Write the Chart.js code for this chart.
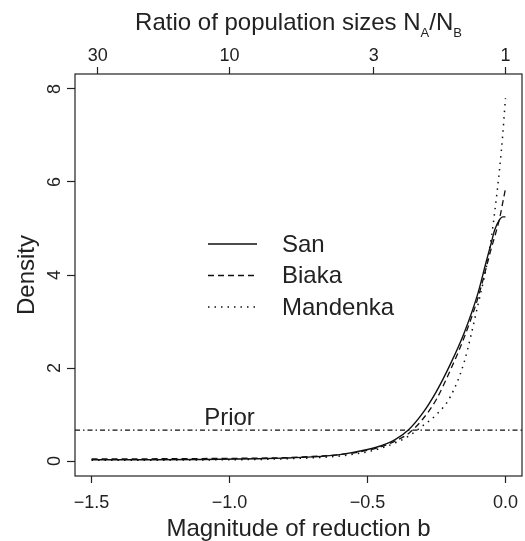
<!DOCTYPE html>
<html>
<head>
<meta charset="utf-8">
<script src="https://cdn.jsdelivr.net/npm/chart.js@4.4.0/dist/chart.umd.min.js"></script>
<style>
  body { margin: 0; background: #fff; }
  canvas { display: block; }
</style>
</head>
<body>
<canvas id="chart" width="525" height="541"></canvas>
<script>
// values
var bVals    = [-1.5, -1.3, -1.1, -0.9, -0.8, -0.7, -0.6, -0.5, -0.45, -0.4, -0.35, -0.3, -0.25, -0.2, -0.15, -0.1, -0.07, -0.05, -0.04, -0.02, -0.01, 0];
var san      = [0.03, 0.03, 0.035, 0.05, 0.065, 0.09, 0.14, 0.25, 0.33, 0.46, 0.68, 1.03, 1.5, 2.08, 2.75, 3.6, 4.28, 4.72, 4.95, 5.2, 5.25, 5.25];
var biaka    = [0.05, 0.05, 0.055, 0.065, 0.075, 0.1, 0.14, 0.23, 0.31, 0.43, 0.6, 0.9, 1.33, 1.95, 2.65, 3.5, 4.15, 4.6, 4.8, 5.25, 5.55, 5.85];
var mandenka = [0.02, 0.02, 0.025, 0.035, 0.05, 0.07, 0.11, 0.2, 0.28, 0.39, 0.54, 0.76, 1.0, 1.38, 2.12, 3.35, 4.15, 4.85, 5.3, 6.35, 7.0, 7.8];
var priorDensity = 1 / 1.5;

var bTicks = [-1.5, -1.0, -0.5, 0.0];
var yTicks = [0, 2, 4, 6, 8];
var ratioTicks = [30, 10, 3, 1];
var xMin = -1.56, xMax = 0.06;
var yMin = -0.32, yMax = 8.32;

var FONT = "'Liberation Sans', Arial, Helvetica, sans-serif";

function pts(ys) {
    return bVals.map(function (b, i) { return { x: b, y: ys[i] }; });
}

function fmtMinus(v) {
    var s = Math.abs(v).toFixed(1);
    return v < 0 ? '\u2212' + s : s;
}

var boxAndText = {
    id: 'boxAndText',
    afterDraw: function (chart) {
        var ctx = chart.ctx;
        var a = chart.chartArea;
        var x = chart.scales.x, y = chart.scales.y;
        ctx.save();
        ctx.strokeStyle = '#222';
        ctx.lineWidth = 1.2;
        ctx.strokeRect(a.left, a.top, a.right - a.left, a.bottom - a.top);

        // y tick labels, rotated like R
        ctx.fillStyle = '#222';
        ctx.font = '18px ' + FONT;
        ctx.textAlign = 'center';
        ctx.textBaseline = 'middle';
        yTicks.forEach(function (v) {
            ctx.save();
            ctx.translate(a.left - 20, y.getPixelForValue(v));
            ctx.rotate(-Math.PI / 2);
            ctx.fillText(String(v), 0, 0);
            ctx.restore();
        });

        // top title with subscripts
        var parts = [
            { t: 'Ratio of population sizes N', sub: false },
            { t: 'A', sub: true },
            { t: '/N', sub: false },
            { t: 'B', sub: true }
        ];
        var big = '24px ' + FONT, small = '13px ' + FONT;
        var total = 0;
        parts.forEach(function (p) {
            ctx.font = p.sub ? small : big;
            p.w = ctx.measureText(p.t).width;
            total += p.w;
        });
        var tx = (a.left + a.right) / 2 - total / 2;
        ctx.textAlign = 'left';
        ctx.textBaseline = 'alphabetic';
        parts.forEach(function (p) {
            ctx.font = p.sub ? small : big;
            ctx.fillText(p.t, tx, p.sub ? 37 : 30);
            tx += p.w;
        });

        // legend inside the plot
        var lx0 = 208, lx1 = 257, ltx = 282, ly = 244, lstep = 31.5;
        chart.data.datasets.forEach(function (ds, i) {
            if (ds.label === 'Prior') return;
            var yy = ly + i * lstep;
            ctx.strokeStyle = ds.borderColor;
            ctx.lineWidth = ds.borderWidth;
            ctx.setLineDash(ds.borderDash || []);
            ctx.beginPath();
            ctx.moveTo(lx0, yy);
            ctx.lineTo(lx1, yy);
            ctx.stroke();
            ctx.setLineDash([]);
            ctx.font = '24px ' + FONT;
            ctx.textBaseline = 'middle';
            ctx.fillText(ds.label, ltx, yy + 1);
        });

        // prior label
        ctx.font = '24px ' + FONT;
        ctx.textAlign = 'center';
        ctx.textBaseline = 'alphabetic';
        ctx.fillText('Prior', x.getPixelForValue(-1.0), y.getPixelForValue(priorDensity) - 5);
        ctx.restore();
    }
};

Chart.defaults.font.family = FONT;
Chart.defaults.color = '#222';

function fixX(h) {
    return function (s) {
        s.height = h;
        s.paddingLeft = 0;
        s.paddingRight = 0;
    };
}

new Chart(document.getElementById('chart'), {
    type: 'line',
    data: {
        datasets: [
            { label: 'San', data: pts(san), borderColor: '#111', borderWidth: 1.4, borderDash: [] },
            { label: 'Biaka', data: pts(biaka), borderColor: '#111', borderWidth: 1.3, borderDash: [6, 4] },
            { label: 'Mandenka', data: pts(mandenka), borderColor: '#111', borderWidth: 1.5, borderDash: [1.5, 5] },
            { label: 'Prior', data: [{ x: xMin, y: priorDensity }, { x: xMax, y: priorDensity }],
              borderColor: '#111', borderWidth: 1.2, borderDash: [5, 3, 1.5, 3] }
        ]
    },
    options: {
        responsive: false,
        animation: false,
        layout: { padding: { right: 3 } },
        elements: {
            point: { radius: 0 },
            line: { cubicInterpolationMode: 'monotone', fill: false }
        },
        plugins: {
            legend: { display: false },
            tooltip: { enabled: false }
        },
        scales: {
            x: {
                type: 'linear',
                position: 'bottom',
                min: xMin,
                max: xMax,
                afterBuildTicks: function (s) { s.ticks = bTicks.map(function (v) { return { value: v }; }); },
                afterFit: fixX(65),
                ticks: {
                    font: { size: 18 },
                    padding: 9,
                    maxRotation: 0,
                    callback: function (v) { return fmtMinus(v); }
                },
                grid: { drawOnChartArea: false, tickLength: 7, tickColor: '#222', tickWidth: 1.2 },
                border: { display: false },
                title: {
                    display: true,
                    text: 'Magnitude of reduction b',
                    font: { size: 24, lineHeight: 1 },
                    padding: { top: 0, bottom: 0 }
                }
            },
            x2: {
                type: 'linear',
                position: 'top',
                min: xMin,
                max: xMax,
                afterBuildTicks: function (s) { s.ticks = ratioTicks.map(function (r) { return { value: -Math.log10(r) }; }); },
                afterFit: fixX(74),
                ticks: {
                    font: { size: 18 },
                    padding: 0,
                    maxRotation: 0,
                    callback: function (v, i) { return String(ratioTicks[i]); }
                },
                grid: { drawOnChartArea: false, tickLength: 7, tickColor: '#222', tickWidth: 1.2 },
                border: { display: false }
            },
            y: {
                type: 'linear',
                min: yMin,
                max: yMax,
                afterBuildTicks: function (s) { s.ticks = yTicks.map(function (v) { return { value: v }; }); },
                afterFit: function (s) { s.width = 75; },
                ticks: { display: false },
                grid: { drawOnChartArea: false, tickLength: 8, tickColor: '#222', tickWidth: 1.2 },
                border: { display: false },
                title: {
                    display: true,
                    text: 'Density',
                    font: { size: 24 },
                    padding: { top: 13, bottom: 0 }
                }
            }
        }
    },
    plugins: [boxAndText]
});
</script>
</body>
</html>
